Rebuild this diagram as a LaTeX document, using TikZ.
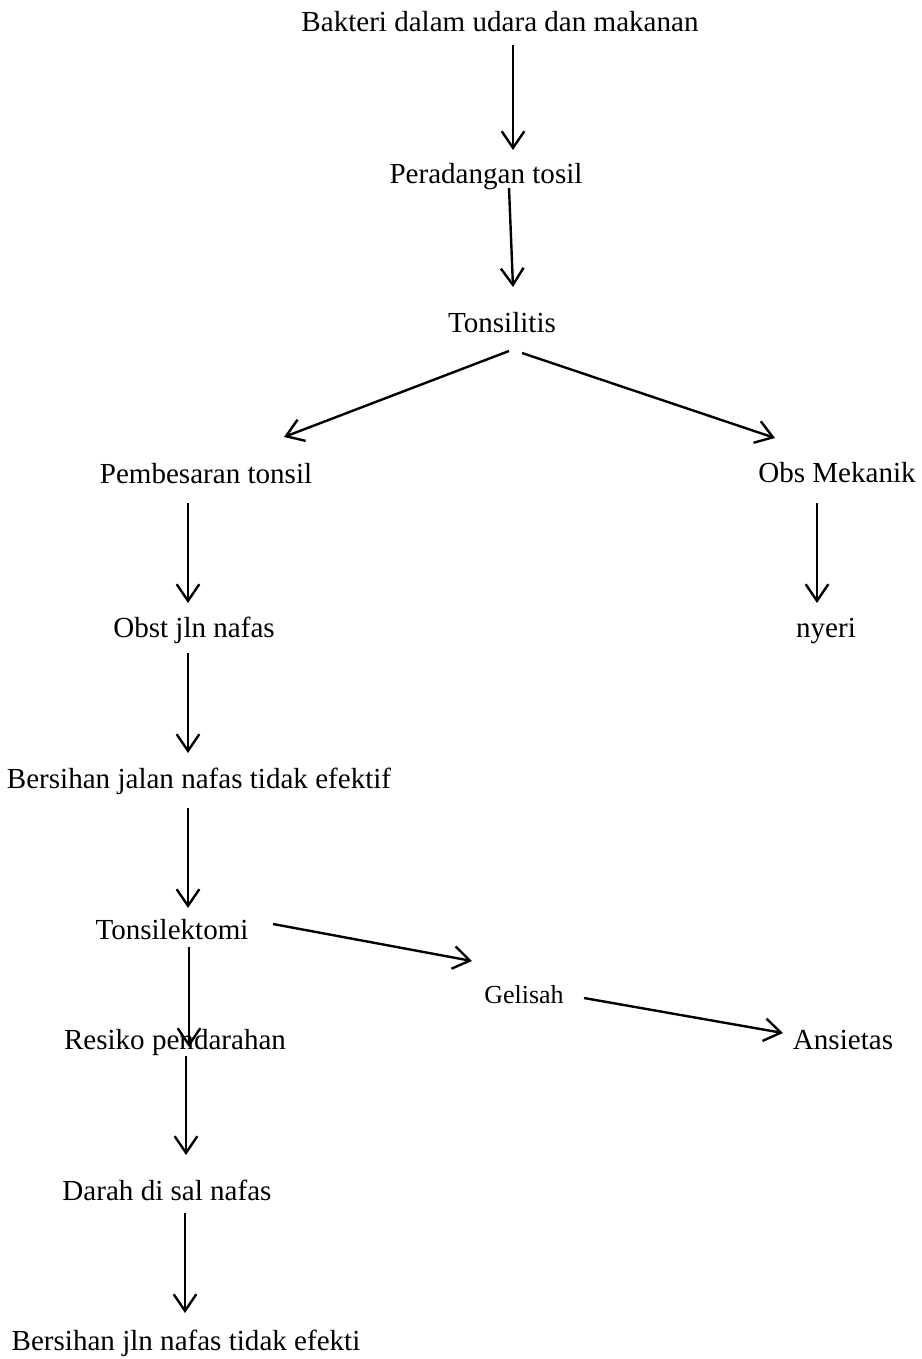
\documentclass[tikz,border=0pt]{standalone}
\usepackage{fontspec}
\setmainfont{Liberation Serif}
\usetikzlibrary{arrows.meta}
\begin{document}
\begin{tikzpicture}[x=0.75pt,y=-0.75pt,
  lbl/.style={anchor=base,inner sep=0pt,font=\fontsize{21.8}{26}\selectfont},
  small/.style={anchor=base,inner sep=0pt,font=\fontsize{19.5}{23}\selectfont},
  arr/.style={draw,line width=1.8pt,-{Straight Barb[length=12.5pt,width=17pt,line width=1.8pt]}}]
\useasboundingbox (0,0) rectangle (921,1359);
\node[lbl] (bak) at (500,32) {Bakteri dalam udara dan makanan};
\node[lbl] (per) at (486,183) {Peradangan tosil};
\node[lbl] (ton) at (502,332) {Tonsilitis};
\node[lbl] (pem) at (206,483) {Pembesaran tonsil};
\node[lbl] (obs) at (837,482) {Obs Mekanik};
\node[lbl] (obst) at (194,637) {Obst jln nafas};
\node[lbl] (nye) at (826,637) {nyeri};
\node[lbl] (ber1) at (199,788) {Bersihan jalan nafas tidak efektif};
\node[lbl] (tsk) at (172,939) {Tonsilektomi};
\node[small] (gel) at (524,1003) {Gelisah};
\node[lbl] (res) at (175,1049) {Resiko pendarahan};
\node[lbl] (ans) at (843,1049) {Ansietas};
\node[lbl] (dar) at (167,1200) {Darah di sal nafas};
\node[lbl] (ber2) at (186,1350) {Bersihan jln nafas tidak efekti};
% connectors (offsets relative to text baselines)
\draw[arr] ([shift={(13,13)}]bak.base) -- ([shift={(27,-33)}]per.base);
\draw[arr] ([shift={(23,5)}]per.base) -- ([shift={(11,-45)}]ton.base);
\draw[arr] ([shift={(7,19)}]ton.base) -- ([shift={(78,-46)}]pem.base);
\draw[arr] ([shift={(20,21)}]ton.base) -- ([shift={(-62,-44)}]obs.base);
\draw[arr] ([shift={(-18,20)}]pem.base) -- ([shift={(-6,-34)}]obst.base);
\draw[arr] ([shift={(-20,21)}]obs.base) -- ([shift={(-9,-34)}]nye.base);
\draw[arr] ([shift={(-6,16)}]obst.base) -- ([shift={(-11,-35)}]ber1.base);
\draw[arr] ([shift={(-11,20)}]ber1.base) -- ([shift={(16,-31)}]tsk.base);
\draw[arr] ([shift={(101,-15)}]tsk.base) -- ([shift={(-52,-42)}]gel.base);
\draw[arr] ([shift={(17,8)}]tsk.base) -- ([shift={(14,-2)}]res.base);
\draw[arr] ([shift={(60,-5)}]gel.base) -- ([shift={(-60,-16)}]ans.base);
\draw[arr] ([shift={(11,7)}]res.base) -- ([shift={(19,-45)}]dar.base);
\draw[arr] ([shift={(18,13)}]dar.base) -- ([shift={(-1,-37)}]ber2.base);
\end{tikzpicture}
\end{document}
